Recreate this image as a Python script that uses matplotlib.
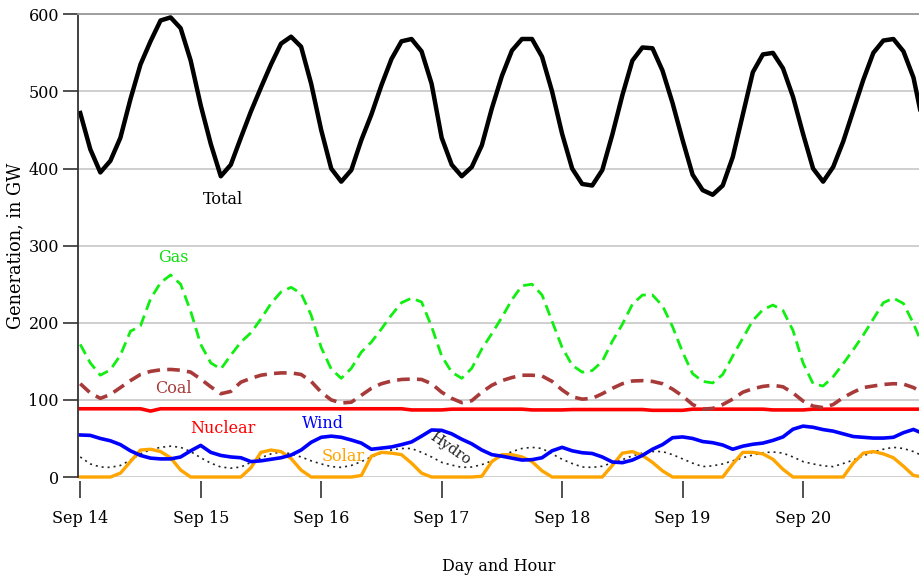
import numpy as np
import matplotlib
matplotlib.use("Agg")
import matplotlib.pyplot as plt

plt.rcParams['font.family'] = ['DejaVu Serif']

# hours since Sep 14 00:00, every 2 hours
hours = np.arange(0, 169, 2)
day_labels = ['Sep 14', 'Sep 15', 'Sep 16', 'Sep 17', 'Sep 18', 'Sep 19', 'Sep 20']

# generation in GW, one row per day (12 values) plus the closing value
total = [
    472, 425, 395, 410, 440, 490, 535, 565, 592, 596, 582, 540,
    482, 432, 390, 405, 440, 474, 505, 535, 562, 571, 558, 510,
    450, 400, 383, 398, 437, 470, 508, 542, 565, 568, 552, 510,
    440, 405, 390, 402, 430, 478, 520, 553, 568, 568, 545, 500,
    445, 400, 380, 378, 398, 444, 495, 540, 557, 556, 527, 485,
    437, 392, 372, 366, 378, 415, 470, 525, 548, 550, 530, 493,
    445, 400, 383, 402, 435, 475, 515, 550, 566, 568, 552, 518,
    455,
]
gas = [
    172, 148, 132, 139, 158, 189, 196, 231, 252, 262, 250, 215,
    172, 148, 140, 158, 175, 187, 205, 225, 240, 246, 238, 210,
    168, 140, 128, 141, 162, 175, 192, 210, 226, 232, 227, 195,
    157, 136, 128, 141, 166, 186, 207, 230, 248, 250, 236, 202,
    168, 145, 136, 138, 150, 176, 198, 224, 236, 236, 222, 195,
    162, 134, 124, 122, 133, 157, 180, 203, 217, 223, 216, 190,
    148, 121, 118, 130, 147, 165, 184, 205, 226, 232, 225, 199,
    168,
]
coal = [
    121, 109, 102, 107, 116, 125, 133, 137, 139, 139.5, 138.5, 136,
    127, 117, 108, 111, 123, 128, 132, 134, 135, 135, 133, 124,
    110, 100, 96, 97, 106, 115, 121, 124.5, 126.5, 127, 126.5, 121,
    110, 102, 96.5, 99, 110, 119, 125, 129, 132, 132, 131, 124,
    113, 104, 101, 102, 108, 115, 121, 124.5, 125, 124, 121, 114,
    105, 94, 88, 89, 94, 101, 110, 114.5, 117.5, 119, 117, 109,
    98.5, 92, 90, 94, 103, 110, 116, 118, 120, 121, 120.5, 116,
    109,
]
nuclear = [
    88.5, 88.5, 88.5, 88.5, 88.5, 88.5, 88.5, 85.5, 88.5, 88.5, 88.5, 88.5,
    88.5, 88.5, 88.5, 88.5, 88.5, 88.5, 88.5, 88.5, 88.5, 88.5, 88.5, 88.5,
    88.5, 88.5, 88.5, 88.5, 88.5, 88.5, 88.5, 88.5, 88.5, 87, 87, 87,
    87, 88, 88, 88, 88, 88, 88, 88, 88, 87, 87, 87,
    87, 87.5, 87.5, 87.5, 87.5, 87.5, 87.5, 87.5, 87.5, 86.5, 86.5, 86.5,
    86.5, 88, 88, 88, 88, 88, 88, 88, 88, 87, 87, 87,
    87, 88, 88, 88, 88, 88, 88, 88, 88, 88, 88, 88,
    88,
]
wind = [
    54.5, 54, 50, 47, 42, 34, 28, 24.5, 23.5, 23.5, 26, 34,
    41, 32, 28, 26, 25, 20, 21, 23, 25, 28.5, 35, 45,
    51.5, 53, 51.5, 48, 44, 36, 37.5, 39, 42, 45.5, 53, 61,
    60.5, 56, 49, 43, 35, 29, 27, 24.5, 22, 22.5, 25, 34,
    38.5, 34, 31.5, 30.5, 26, 19.5, 18.6, 22, 28, 36, 42, 51,
    52, 50, 46, 44.5, 41.5, 36, 40, 42.5, 44, 47.5, 52, 62,
    66, 64.5, 61.5, 59.5, 56, 52.5, 51.5, 50.5, 50.5, 51.5, 57.5, 61.7,
    56,
]
hydro = [
    26, 17, 13, 12.5, 15, 22, 30, 35.5, 38.5, 40, 38.5, 33,
    25, 18, 13, 11.5, 13, 19, 25, 30, 32.5, 30, 26, 21,
    17, 13.5, 12.5, 15, 20, 26, 31, 35, 37, 37, 32, 26,
    19, 15.5, 12.5, 13, 16, 21, 27, 33, 37, 38.5, 37, 30,
    23, 17.5, 13, 12.5, 14, 18.5, 22.5, 27.5, 31, 33, 33, 29,
    23.5, 18, 13.5, 14.5, 17, 21, 25, 28.5, 31.5, 32.5, 31, 26,
    20, 17, 14.5, 13.5, 17.5, 22, 27.5, 32.5, 36, 38.5, 37, 33,
    27,
]
solar = [
    0, 0, 0, 0, 5, 20, 35, 36, 33, 25, 9, 0,
    0, 0, 0, 0, 0, 12, 32, 35, 33, 24, 9, 0,
    0, 0, 0, 0, 2, 27, 32, 31, 29, 18, 5, 0,
    0, 0, 0, 0, 1, 20, 29, 29, 26, 20, 8, 0,
    0, 0, 0, 0, 0, 15, 31, 33, 28, 19, 8, 0,
    0, 0, 0, 0, 0, 17, 32, 32, 30, 23, 10, 0,
    0, 0, 0, 0, 0, 18, 31, 33, 30, 25, 14, 2,
    0,
]

fig = plt.figure(figsize=(9.2, 5.75), dpi=100)
ax = fig.add_axes([0.0845, 0.1704, 0.9155, 0.8047])

ax.set_ylim(0, 600)
ax.set_xlim(-0.5, 167.3)
ax.set_yticks(range(0, 601, 100))
ax.yaxis.grid(True, color='#cccccc', linewidth=1.3)
ax.set_axisbelow(True)

ax.plot(hours, hydro, color='#222222', lw=1.2, ls=(0, (1.2, 2.4)), clip_on=False)
ax.plot(hours, solar, color='#ffa500', lw=2.4, clip_on=False)
ax.plot(hours, wind, color='#0000ff', lw=2.6, clip_on=False)
ax.plot(hours, nuclear, color='#ff0000', lw=2.6, clip_on=False)
ax.plot(hours, coal, color='#a83a3a', lw=2.6, ls=(0, (3.5, 2)), clip_on=False)
ax.plot(hours, gas, color='#11ee11', lw=2.0, ls=(0, (4, 2.2)), clip_on=False)
ax.plot(hours, total, color='black', lw=3.2, clip_on=False)

lab = dict(fontsize=11.5, ha='center', va='center')
ax.text(28.4, 360, 'Total', color='black', **lab)
ax.text(18.5, 285, 'Gas', color='#11dd11', **lab)
ax.text(18.5, 115, 'Coal', color='#a83a3a', **lab)
ax.text(28.5, 63, 'Nuclear', color='#ff0000', **lab)
ax.text(48.4, 70, 'Wind', color='#0000ff', **lab)
ax.text(52.3, 27, 'Solar', color='#ffa500', **lab)
ax.text(73.7, 37.5, 'Hydro', color='#222222', fontsize=10.5, rotation=-35,
        ha='center', va='center')

for side in ['right', 'bottom']:
    ax.spines[side].set_visible(False)
ax.spines['bottom'].set_position(('outward', 3))
ax.spines['top'].set_color('#999999')
ax.spines['top'].set_linewidth(1.3)
ax.spines['left'].set_color('#333333')
ax.spines['left'].set_linewidth(1.3)

ax.set_xticks(np.arange(0, 145, 24))
ax.set_xticklabels(day_labels)
ax.tick_params(axis='x', length=12, width=1.2, color='#333333', pad=9, labelsize=11.5)
ax.tick_params(axis='y', length=11, width=1.2, color='#333333', pad=2.5, labelsize=11.5)

ax.set_ylabel('Generation, in GW', fontsize=12.8, labelpad=3)
ax.set_xlabel('Day and Hour', fontsize=11.5, labelpad=22)

fig.savefig('out.png', dpi=100)
